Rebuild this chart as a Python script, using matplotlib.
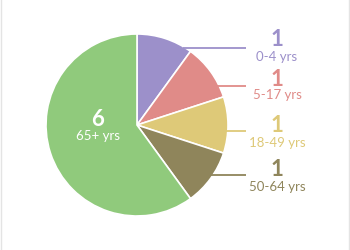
import numpy as np
import matplotlib.pyplot as plt
from matplotlib.lines import Line2D

groups = ['0-4 yrs', '5-17 yrs', '18-49 yrs', '50-64 yrs', '65+ yrs']
counts = [1, 1, 1, 1, 6]
colors = ['#9c90ca', '#e08b88', '#dec978', '#8f855b', '#90ca7c']

plt.rcParams['font.family'] = ['Lato', 'DejaVu Sans']

fig = plt.figure(figsize=(3.5, 2.5), dpi=100)
ax = fig.add_axes([0, 0, 1, 1])

cx, cy, r = 137, 250 - 125, 91
ax.pie(counts, colors=colors, startangle=90, counterclock=False,
       center=(cx, cy), radius=r, frame=True,
       wedgeprops=dict(edgecolor='white', linewidth=1.2))
ax.set_xlim(0, 350)
ax.set_ylim(0, 250)
ax.axis('off')

# outside labels for the small groups
line_y = [48, 86, 131, 175]
num_y = [40, 80, 125, 170]
lab_y = [57, 95, 143, 187]
for i in range(4):
    ly = 250 - line_y[i]
    x0 = cx + np.sqrt(r**2 - (ly - cy)**2) - 2
    ax.plot([x0, 246], [ly, ly], color=colors[i], lw=1.3, solid_capstyle='butt')
    ax.text(277, 250 - num_y[i], str(counts[i]), color=colors[i],
            fontsize=16, fontweight='bold', ha='center', va='center')
    ax.text(277, 250 - lab_y[i], groups[i], color=colors[i],
            fontsize=9.5, ha='center', va='center')

# label inside the big slice
ax.text(98, 250 - 120, str(counts[4]), color='white', fontsize=16,
        fontweight='bold', ha='center', va='center')
ax.text(98, 250 - 136, groups[4], color='white', fontsize=9.5,
        ha='center', va='center')

fig.add_artist(Line2D([0.002, 0.002], [0, 1], color='#e4e4e4', lw=1))
fig.add_artist(Line2D([0.997, 0.997], [0, 1], color='#e4e4e4', lw=1))

fig.savefig('out.png', dpi=100)
